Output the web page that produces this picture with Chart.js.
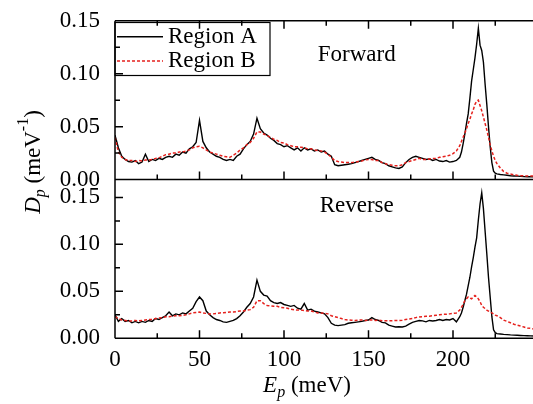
<!DOCTYPE html>
<html>
<head>
<meta charset="utf-8">
<script src="https://cdn.jsdelivr.net/npm/chart.js@4.4.0/dist/chart.umd.min.js"></script>
<style>
  html, body { margin: 0; padding: 0; background: #fff; overflow: hidden; }
  #wrap { width: 545px; height: 404px; }
</style>
</head>
<body>
<div id="wrap"><canvas id="dpChart" width="545" height="404"></canvas></div>
<script>
// phonon energy grid (meV), finer around the 215 meV peak
const energy = [
  0, 2, 4, 6, 8, 10, 12, 14, 16, 18,
  20, 22, 24, 26, 28, 30, 32, 34, 36, 38,
  40, 42, 44, 46, 48, 50, 52, 54, 56, 58,
  60, 62, 64, 66, 68, 70, 72, 74, 76, 78,
  80, 82, 84, 86, 88, 90, 92, 94, 96, 98,
  100, 102, 104, 106, 108, 110, 112, 114, 116, 118,
  120, 122, 124, 126, 128, 130, 132, 134, 136, 138,
  140, 142, 144, 146, 148, 150, 152, 154, 156, 158,
  160, 162, 164, 166, 168, 170, 172, 174, 176, 178,
  180, 182, 184, 186, 188, 190, 192, 194, 196, 198,
  200, 202, 204,
  205, 206, 207, 208, 209, 210, 211, 212, 213, 214,
  215, 216, 217, 218, 219, 220, 221, 222, 223, 224,
  225, 226,
  228, 230, 232, 234, 236, 238, 240, 242, 244, 246, 248
];

const forwardA = [
  0.042, 0.030, 0.022, 0.019, 0.017, 0.0165, 0.018, 0.015, 0.0165, 0.024,
  0.017, 0.019, 0.018, 0.020, 0.019, 0.021, 0.022, 0.021, 0.024, 0.023,
  0.026, 0.025, 0.029, 0.031, 0.035, 0.056, 0.036, 0.030, 0.026, 0.024,
  0.022, 0.021, 0.019, 0.018, 0.019, 0.018, 0.022, 0.024, 0.029, 0.033,
  0.036, 0.043, 0.058, 0.048, 0.044, 0.042, 0.039, 0.037, 0.034, 0.033,
  0.031, 0.032, 0.030, 0.028, 0.030, 0.027, 0.030, 0.028, 0.029, 0.027,
  0.028, 0.026, 0.027, 0.024, 0.022, 0.014, 0.013, 0.0135, 0.014, 0.0145,
  0.015, 0.016, 0.017, 0.018, 0.019, 0.020, 0.021, 0.019, 0.018, 0.016,
  0.015, 0.013, 0.012, 0.011, 0.0105, 0.012, 0.016, 0.019, 0.021, 0.022,
  0.021, 0.020, 0.019, 0.0195, 0.018, 0.019, 0.0175, 0.017, 0.018, 0.0165,
  0.017, 0.018, 0.021,
  0.026, 0.034, 0.043, 0.053, 0.062, 0.077, 0.093, 0.104, 0.115, 0.128,
  0.143, 0.127, 0.122, 0.111, 0.090, 0.071, 0.050, 0.031, 0.016, 0.008,
  0.006, 0.0053,
  0.0048, 0.0044, 0.004, 0.0036, 0.0034, 0.0032, 0.003, 0.0028, 0.0027, 0.0026, 0.0025
];

const forwardB = [
  0.040, 0.026, 0.021, 0.019, 0.018, 0.018, 0.017, 0.018, 0.0175, 0.0185,
  0.0185, 0.019, 0.020, 0.0205, 0.022, 0.0235, 0.024, 0.025, 0.025, 0.026,
  0.026, 0.027, 0.028, 0.030, 0.031, 0.0315, 0.030, 0.028, 0.026, 0.025,
  0.024, 0.023, 0.022, 0.0215, 0.021, 0.023, 0.025, 0.028, 0.030, 0.033,
  0.035, 0.039, 0.045, 0.045, 0.043, 0.0415, 0.040, 0.038, 0.037, 0.035,
  0.0345, 0.033, 0.032, 0.031, 0.031, 0.0305, 0.030, 0.029, 0.029, 0.028,
  0.0275, 0.027, 0.026, 0.024, 0.021, 0.018, 0.017, 0.0165, 0.016, 0.016,
  0.016, 0.0165, 0.017, 0.0175, 0.0185, 0.019, 0.019, 0.018, 0.018, 0.016,
  0.015, 0.014, 0.0135, 0.013, 0.013, 0.014, 0.016, 0.017, 0.018, 0.019,
  0.020, 0.019, 0.019, 0.0195, 0.020, 0.020, 0.021, 0.0215, 0.022, 0.023,
  0.0245, 0.027, 0.032,
  0.036, 0.040, 0.044, 0.048, 0.053, 0.057, 0.062, 0.066, 0.071, 0.074,
  0.075, 0.070, 0.065, 0.059, 0.053, 0.047, 0.040, 0.033, 0.027, 0.022,
  0.018, 0.015,
  0.011, 0.0075, 0.006, 0.0053, 0.0045, 0.004, 0.0037, 0.0035, 0.0034, 0.0033, 0.0033
];

const reverseA = [
  0.025, 0.018, 0.021, 0.018, 0.019, 0.0165, 0.018, 0.0165, 0.018, 0.017,
  0.019, 0.018, 0.021, 0.020, 0.022, 0.024, 0.028, 0.024, 0.026, 0.025,
  0.027, 0.026, 0.029, 0.032, 0.039, 0.044, 0.040, 0.029, 0.025, 0.022,
  0.020, 0.019, 0.0175, 0.017, 0.018, 0.019, 0.021, 0.024, 0.028, 0.033,
  0.037, 0.044, 0.062, 0.050, 0.046, 0.045, 0.040, 0.038, 0.037, 0.038,
  0.036, 0.035, 0.034, 0.035, 0.032, 0.031, 0.037, 0.030, 0.031, 0.029,
  0.028, 0.027, 0.026, 0.022, 0.016, 0.014, 0.0135, 0.014, 0.0145, 0.016,
  0.0165, 0.017, 0.0175, 0.018, 0.019, 0.0195, 0.022, 0.020, 0.019, 0.017,
  0.0165, 0.014, 0.013, 0.012, 0.0123, 0.012, 0.013, 0.015, 0.017, 0.018,
  0.019, 0.0185, 0.0175, 0.019, 0.0185, 0.019, 0.020, 0.019, 0.020, 0.0195,
  0.021, 0.0175, 0.023,
  0.027, 0.033, 0.040, 0.047, 0.056, 0.065, 0.076, 0.086, 0.097, 0.107,
  0.126, 0.143, 0.155, 0.138, 0.114, 0.090, 0.065, 0.044, 0.023, 0.009,
  0.006, 0.005,
  0.0046, 0.0042, 0.0039, 0.0036, 0.0034, 0.0032, 0.003, 0.0028, 0.0027, 0.0026, 0.0025
];

const reverseB = [
  0.023, 0.021, 0.0195, 0.019, 0.0185, 0.0185, 0.019, 0.0185, 0.019, 0.0195,
  0.020, 0.020, 0.021, 0.0215, 0.022, 0.023, 0.023, 0.0235, 0.024, 0.024,
  0.0245, 0.025, 0.026, 0.027, 0.0275, 0.028, 0.027, 0.0265, 0.026, 0.026,
  0.0265, 0.027, 0.0272, 0.0275, 0.028, 0.028, 0.0285, 0.029, 0.029, 0.030,
  0.0305, 0.033, 0.040, 0.040, 0.037, 0.035, 0.0345, 0.034, 0.034, 0.033,
  0.0325, 0.032, 0.031, 0.0305, 0.030, 0.030, 0.0295, 0.029, 0.029, 0.028,
  0.027, 0.027, 0.0265, 0.026, 0.024, 0.023, 0.022, 0.021, 0.020, 0.0195,
  0.0193, 0.019, 0.0193, 0.0195, 0.019, 0.0193, 0.0195, 0.019, 0.0193, 0.0188,
  0.0186, 0.0186, 0.0188, 0.019, 0.019, 0.0193, 0.020, 0.0205, 0.021, 0.022,
  0.0228, 0.023, 0.0235, 0.0235, 0.024, 0.0245, 0.025, 0.0255, 0.0255, 0.026,
  0.0265, 0.027, 0.030,
  0.033, 0.036, 0.040, 0.042, 0.044, 0.043, 0.042, 0.044, 0.0455, 0.044,
  0.042, 0.039, 0.035, 0.033, 0.0316, 0.030, 0.029, 0.028, 0.027, 0.026,
  0.0246, 0.024,
  0.022, 0.0193, 0.018, 0.0165, 0.015, 0.014, 0.013, 0.012, 0.011, 0.0105, 0.010
];

const seriesNames = ["Region A", "Region B"];
const panelNames = ["Forward", "Reverse"];
const xTicks = [0, 50, 100, 150, 200];
const yTicks = [0, 0.05, 0.10, 0.15];

const SERIF = '"Liberation Serif", "Times New Roman", Times, serif';
const BLACK = "#000000";
const RED = "#e5211d";

const toPoints = vals => vals.map((v, i) => ({ x: energy[i], y: v }));

function lineSet(label, vals, axis, isB) {
  return {
    label: label,
    data: toPoints(vals),
    yAxisID: axis,
    borderColor: isB ? RED : BLACK,
    borderWidth: isB ? 1.5 : 1.4,
    borderDash: isB ? [3, 2] : [],
    order: isB ? 0 : 1
  };
}

function yScale(max) {
  return {
    type: "linear",
    position: "left",
    stack: "panels",
    stackWeight: 1,
    min: 0,
    max: max,
    grid: { display: false },
    border: { display: false },
    afterBuildTicks: s => { s.ticks = yTicks.map(v => ({ value: v })); },
    afterFit: s => { s.width = 115; },
    ticks: {
      color: BLACK,
      padding: 7,
      font: { family: SERIF, size: 23 },
      callback: v => v.toFixed(2)
    }
  };
}

// draws text pieces in a row, returns total width
function richText(ctx, parts, measureOnly) {
  let w = 0;
  parts.forEach(p => {
    ctx.font = p.font;
    if (!measureOnly) ctx.fillText(p.text, w, p.dy || 0);
    w += ctx.measureText(p.text).width;
  });
  return w;
}

const panelFrame = {
  id: "panelFrame",
  afterDatasetsDraw(chart) {
    const { ctx, chartArea: area, scales } = chart;
    const x = scales.x, yTop = scales.yTop, yBot = scales.yBottom;
    ctx.save();
    ctx.strokeStyle = BLACK;
    ctx.lineWidth = 1.5;
    ctx.beginPath();
    ctx.moveTo(area.left, yTop.top);
    ctx.lineTo(area.left, yBot.bottom);
    [yTop.top, yTop.bottom, yBot.bottom].forEach(py => {
      ctx.moveTo(area.left, py);
      ctx.lineTo(area.right, py);
    });
    // inward ticks on the energy axis, every 25 meV
    for (let e = 0; e <= x.max; e += 25) {
      const px = x.getPixelForValue(e);
      const len = e % 50 === 0 ? 8 : 5;
      ctx.moveTo(px, yTop.top); ctx.lineTo(px, yTop.top + len);
      ctx.moveTo(px, yTop.bottom); ctx.lineTo(px, yTop.bottom - len);
      ctx.moveTo(px, yBot.bottom); ctx.lineTo(px, yBot.bottom - len);
    }
    // inward ticks on each D_p axis, every 0.025
    [yTop, yBot].forEach(s => {
      for (let k = 1; k * 0.025 < s.max - 1e-6; k++) {
        const py = s.getPixelForValue(k * 0.025);
        ctx.moveTo(area.left, py);
        ctx.lineTo(area.left + (k % 2 === 0 ? 8 : 5), py);
      }
    });
    ctx.stroke();

    // panel names
    ctx.fillStyle = BLACK;
    ctx.font = "23px " + SERIF;
    ctx.textAlign = "center";
    ctx.textBaseline = "middle";
    ctx.fillText(panelNames[0], x.getPixelForValue(143), yTop.getPixelForValue(0.118));
    ctx.fillText(panelNames[1], x.getPixelForValue(143), yBot.getPixelForValue(0.1405));

    // legend box in the upper panel
    const sets = chart.data.datasets.slice(0, 2);
    ctx.lineWidth = 1.2;
    ctx.strokeRect(area.left, 22.5, 155, 53);
    ctx.textAlign = "left";
    sets.forEach((ds, i) => {
      const rowY = 36.7 + i * 24.3;
      ctx.strokeStyle = ds.borderColor;
      ctx.lineWidth = ds.borderWidth;
      ctx.setLineDash(ds.borderDash);
      ctx.beginPath();
      ctx.moveTo(area.left + 2, rowY);
      ctx.lineTo(area.left + 48, rowY);
      ctx.stroke();
      ctx.setLineDash([]);
      ctx.fillText(ds.label, area.left + 53, rowY);
    });

    // axis titles
    const big = "23px " + SERIF, bigIt = "italic 23px " + SERIF;
    const small = "16px " + SERIF, smallIt = "italic 16px " + SERIF;
    ctx.textBaseline = "alphabetic";
    const yTitle = [
      { text: "D", font: bigIt },
      { text: "p", font: smallIt, dy: 5 },
      { text: " (meV", font: big },
      { text: "-1", font: small, dy: -12 },
      { text: ")", font: big }
    ];
    ctx.save();
    ctx.translate(40, 162);
    ctx.rotate(-Math.PI / 2);
    const wy = richText(ctx, yTitle, true);
    ctx.translate(-wy / 2, 0);
    richText(ctx, yTitle, false);
    ctx.restore();

    const xTitle = [
      { text: "E", font: bigIt },
      { text: "p", font: smallIt, dy: 5 },
      { text: " (meV)", font: big }
    ];
    ctx.save();
    const wx = richText(ctx, xTitle, true);
    ctx.translate(307 - wx / 2, 392);
    richText(ctx, xTitle, false);
    ctx.restore();

    ctx.restore();
  }
};

new Chart(document.getElementById("dpChart"), {
  type: "line",
  data: {
    datasets: [
      lineSet(seriesNames[0], forwardA, "yTop", false),
      lineSet(seriesNames[1], forwardB, "yTop", true),
      lineSet(seriesNames[0], reverseA, "yBottom", false),
      lineSet(seriesNames[1], reverseB, "yBottom", true)
    ]
  },
  options: {
    responsive: false,
    animation: false,
    layout: { padding: { left: 0, top: 18, right: 7.5, bottom: 0 } },
    elements: { point: { radius: 0 }, line: { tension: 0 } },
    plugins: { legend: { display: false }, tooltip: { enabled: false } },
    scales: {
      x: {
        type: "linear",
        min: 0,
        max: 250,
        grid: { display: false },
        border: { display: false },
        afterBuildTicks: s => { s.ticks = xTicks.map(v => ({ value: v })); },
        afterFit: s => { s.height = 65.7; },
        ticks: {
          color: BLACK,
          padding: 0,
          font: { family: SERIF, size: 23 },
          callback: v => String(v)
        }
      },
      yBottom: yScale(0.169),
      yTop: yScale(0.15)
    }
  },
  plugins: [panelFrame]
});
</script>
</body>
</html>
